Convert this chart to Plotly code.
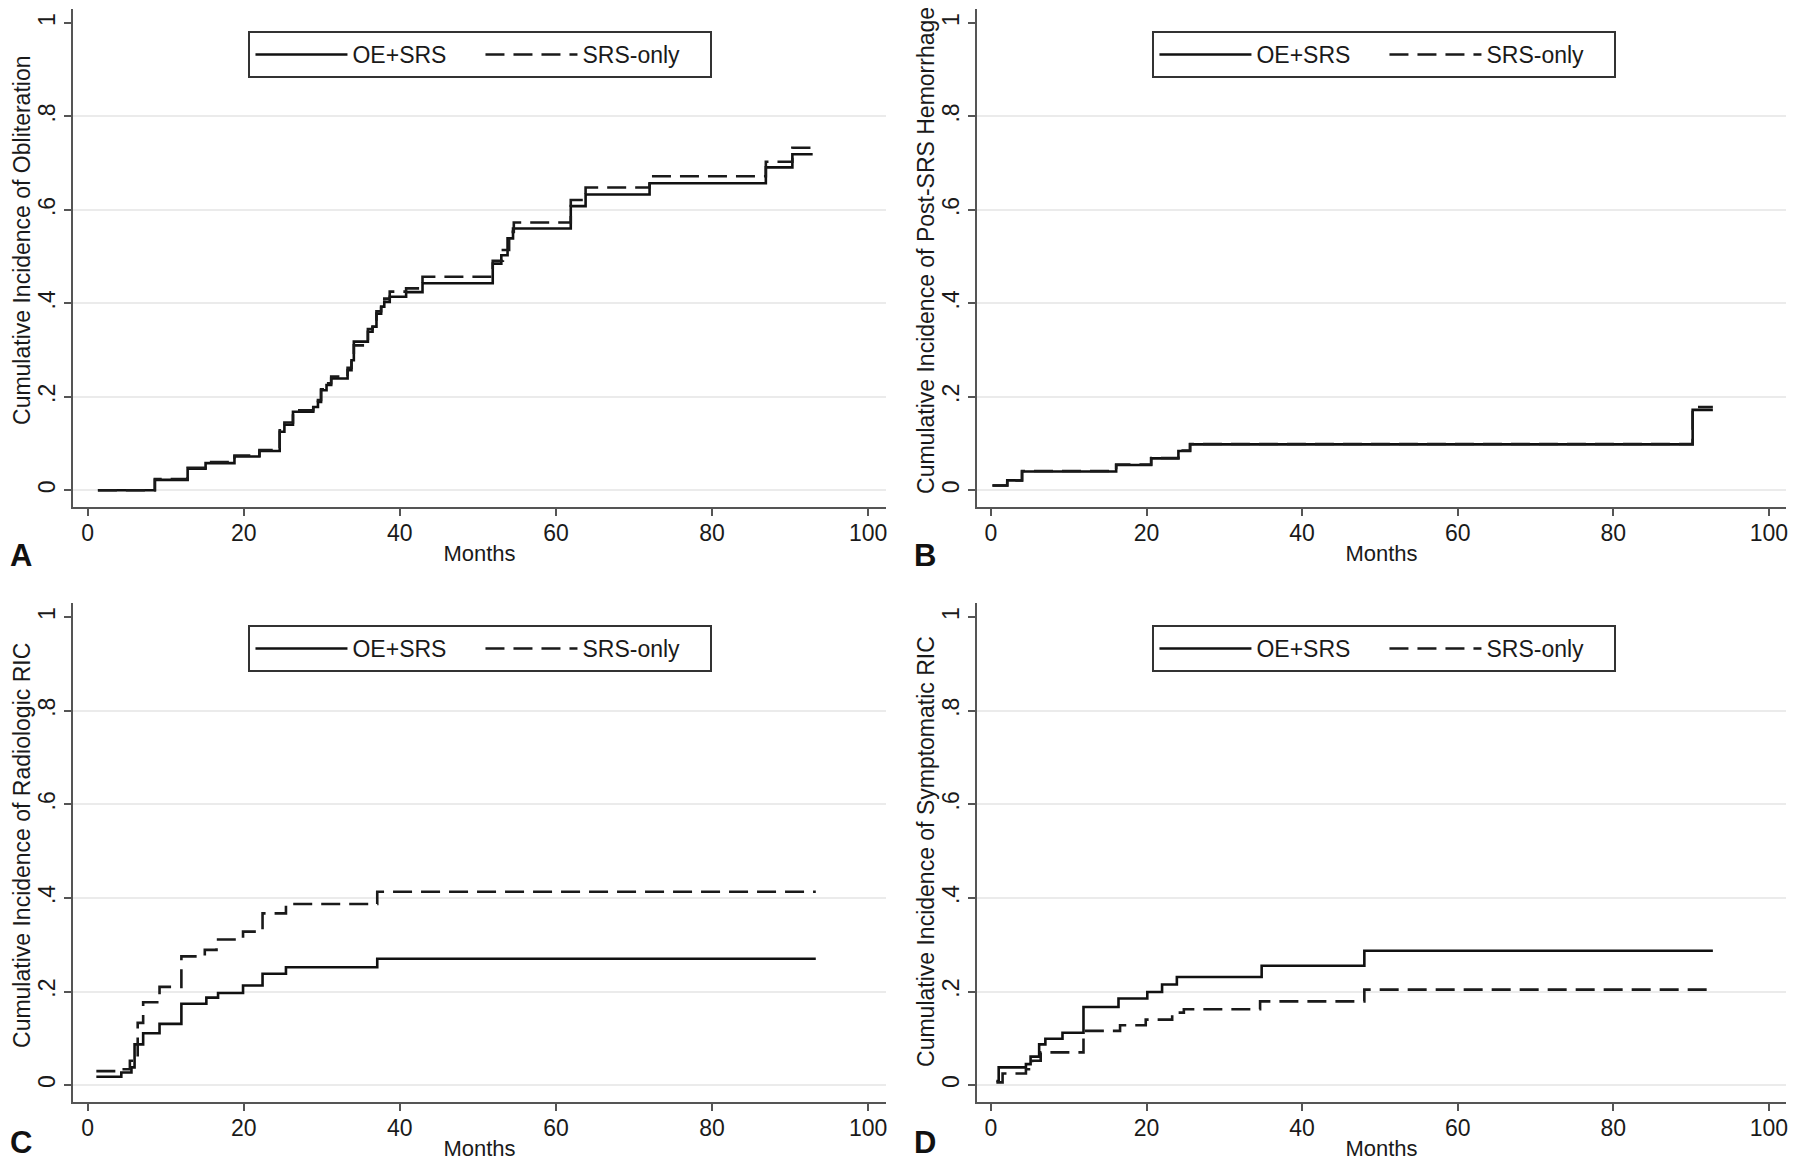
import plotly.graph_objects as go

# ---- data (months, cumulative incidence) ----
# A: obliteration
a_oe_t = [1.3, 8.6, 12.8, 15.1, 18.8, 22.0, 24.6, 25.2, 26.3, 28.9, 29.5, 29.9, 30.6, 31.2, 33.3, 33.8, 34.1,
          35.9, 36.5, 37.0, 37.6, 38.0, 38.7, 40.8, 42.9, 51.9, 53.0, 53.8, 54.5, 61.9, 63.8, 72.0, 86.9, 90.3, 92.9]
a_oe_y = [0, 0.022, 0.046, 0.058, 0.072, 0.084, 0.125, 0.14, 0.168, 0.178, 0.189, 0.214, 0.225, 0.239, 0.257, 0.278,
          0.318, 0.339, 0.35, 0.378, 0.393, 0.403, 0.414, 0.424, 0.443, 0.485, 0.503, 0.539, 0.56, 0.608, 0.633,
          0.657, 0.691, 0.719, 0.719]
a_srs_t = [1.3, 8.6, 12.8, 15.1, 18.8, 22.0, 24.6, 25.2, 26.3, 28.9, 29.5, 29.9, 30.6, 31.2, 33.3, 33.8, 34.1,
           35.9, 36.5, 37.0, 37.6, 38.0, 38.7, 40.8, 42.9, 51.9, 53.2, 54.0, 54.6, 61.9, 63.8, 72.0, 86.9, 90.3, 92.9]
a_srs_y = [0, 0.024, 0.048, 0.06, 0.074, 0.086, 0.128, 0.145, 0.171, 0.18, 0.193, 0.216, 0.229, 0.243, 0.262, 0.282,
           0.31, 0.345, 0.355, 0.383, 0.398, 0.41, 0.425, 0.432, 0.457, 0.491, 0.514, 0.553, 0.573, 0.621, 0.648,
           0.672, 0.703, 0.733, 0.733]

# B: post-SRS hemorrhage
b_oe_t = [0.2, 2.1, 4.0, 16.1, 20.6, 24.1, 25.6, 90.2, 92.8]
b_oe_y = [0.01, 0.021, 0.04, 0.054, 0.068, 0.084, 0.098, 0.172, 0.172]
b_srs_t = [0.2, 2.1, 4.0, 16.1, 20.6, 24.1, 25.6, 90.2, 92.8]
b_srs_y = [0.01, 0.021, 0.041, 0.055, 0.069, 0.085, 0.099, 0.178, 0.178]

# C: radiologic RIC
c_oe_t = [1.1, 4.3, 5.6, 6.0, 7.1, 9.2, 12.0, 15.2, 16.7, 19.9, 22.4, 25.4, 37.1, 93.3]
c_oe_y = [0.018, 0.027, 0.038, 0.087, 0.111, 0.131, 0.174, 0.187, 0.197, 0.213, 0.238, 0.252, 0.27, 0.27]
c_srs_t = [1.1, 4.3, 5.4, 6.4, 7.1, 9.2, 12.0, 15.0, 16.5, 19.9, 22.4, 25.4, 37.1, 93.3]
c_srs_y = [0.03, 0.034, 0.052, 0.133, 0.177, 0.21, 0.275, 0.289, 0.311, 0.328, 0.367, 0.387, 0.413, 0.413]

# D: symptomatic RIC
d_oe_t = [0.7, 1.0, 4.5, 5.1, 6.2, 7.0, 9.2, 11.9, 16.4, 20.1, 22.0, 23.9, 34.8, 48.0, 92.8]
d_oe_y = [0.009, 0.038, 0.045, 0.061, 0.087, 0.099, 0.112, 0.167, 0.185, 0.199, 0.215, 0.231, 0.255, 0.287, 0.287]
d_srs_t = [0.7, 1.5, 4.5, 5.3, 6.4, 11.9, 16.6, 19.9, 23.3, 24.8, 34.6, 48.0, 92.8]
d_srs_y = [0.006, 0.025, 0.034, 0.052, 0.07, 0.116, 0.128, 0.14, 0.155, 0.162, 0.179, 0.204, 0.204]

y_titles = ["Cumulative Incidence of Obliteration", "Cumulative Incidence of Post-SRS Hemorrhage",
            "Cumulative Incidence of Radiologic RIC", "Cumulative Incidence of Symptomatic RIC"]
panel_letters = ["A", "B", "C", "D"]
series_names = ["OE+SRS", "SRS-only"]
x_ticks = [0, 20, 40, 60, 80, 100]
y_ticks = [0, 0.2, 0.4, 0.6, 0.8, 1]
y_tick_text = ["0", ".2", ".4", ".6", ".8", "1"]
y_grid = [0, 0.2, 0.4, 0.6, 0.8]   # no grid line at 1 in the original

# the page body has an 8px margin, so the figure is drawn 8px smaller and everything is shifted
OFF = 8
W, H = 1800 - 2 * OFF, 1170 - 2 * OFF
FONT = "Liberation Sans, Arial, sans-serif"


def px(p):
    return (p - OFF) / W


def py(p):
    return 1 - (p - OFF) / H


# page-pixel boxes of the four plot areas: left, right, top, bottom
boxes = [(73, 887, 9, 507), (978, 1788, 9, 507), (73, 887, 603, 1102), (978, 1788, 603, 1102)]
x_ranges = [[-1.9, 102.3], [-1.8, 102.2], [-1.9, 102.3], [-1.8, 102.2]]
y_range = [-0.036, 1.03]
letter_y = [555, 555, 1142, 1142]
ytitle_y = [240, 250, 845, 851]   # vertical centre of the rotated y titles (page px)

panels = [
    ((a_oe_t, a_oe_y), (a_srs_t, a_srs_y)),
    ((b_oe_t, b_oe_y), (b_srs_t, b_srs_y)),
    ((c_oe_t, c_oe_y), (c_srs_t, c_srs_y)),
    ((d_oe_t, d_oe_y), (d_srs_t, d_srs_y)),
]

fig = go.Figure()
layout = dict(width=W, height=H, margin=dict(l=0, r=0, t=0, b=0), paper_bgcolor="white",
              plot_bgcolor="white", font=dict(family=FONT, size=22, color="#1a1a1a"), annotations=[])

for i, ((t1, y1), (t2, y2)) in enumerate(panels):
    n = "" if i == 0 else str(i + 1)
    leg = "legend" + n
    fig.add_trace(go.Scatter(x=t1, y=y1, mode="lines", line=dict(color="#111", width=2.6, shape="hv"),
                             name=series_names[0], xaxis="x" + n, yaxis="y" + n, legend=leg))
    fig.add_trace(go.Scatter(x=t2, y=y2, mode="lines",
                             line=dict(color="#1a1a1a", width=2.6, shape="hv", dash="19px,9px"),
                             name=series_names[1], xaxis="x" + n, yaxis="y" + n, legend=leg))

    l, r, t, b = boxes[i]
    axis_style = dict(showline=True, linecolor="#555", linewidth=2, ticks="outside", ticklen=7,
                      tickwidth=2, tickcolor="#555", zeroline=False, tickfont=dict(size=23))
    layout["xaxis" + n] = dict(domain=[px(l), px(r)], range=x_ranges[i], tickvals=x_ticks,
                              showgrid=False, anchor="y" + n, ticklabelstandoff=-3,
                              title=dict(text="Months", standoff=1, font=dict(size=22)), **axis_style)
    layout["yaxis" + n] = dict(domain=[py(b), py(t)], range=y_range, tickvals=y_ticks,
                              ticktext=y_tick_text, tickangle=-90, showgrid=False, anchor="x" + n,
                              minor=dict(tickvals=y_grid, showgrid=True, gridcolor="#ebebeb", gridwidth=2,
                                         ticks=""),
                              **axis_style)
    # y title, placed as in the original (not always centred on the plot area)
    layout["annotations"].append(dict(text=y_titles[i], textangle=-90, x=px(l - 51), y=py(ytitle_y[i]),
                                      xref="paper", yref="paper", xanchor="center", yanchor="middle",
                                      showarrow=False, font=dict(family=FONT, size=23, color="#1a1a1a")))
    # legend box at the top centre of each panel
    layout[leg] = dict(x=px(l + 408), y=py(t + 22), xanchor="center", yanchor="top", orientation="h",
                       bgcolor="white", bordercolor="#333", borderwidth=2, entrywidth=123, itemwidth=92,
                       font=dict(family=FONT, size=23, color="#1a1a1a"))
    # panel letter
    layout["annotations"].append(dict(text="<b>" + panel_letters[i] + "</b>", x=px(l - 52),
                                      y=py(letter_y[i]), xref="paper", yref="paper",
                                      xanchor="center", yanchor="middle", showarrow=False,
                                      font=dict(family=FONT, size=31, color="#111")))

fig.update_layout(**layout)
fig.write_html("out.html")
